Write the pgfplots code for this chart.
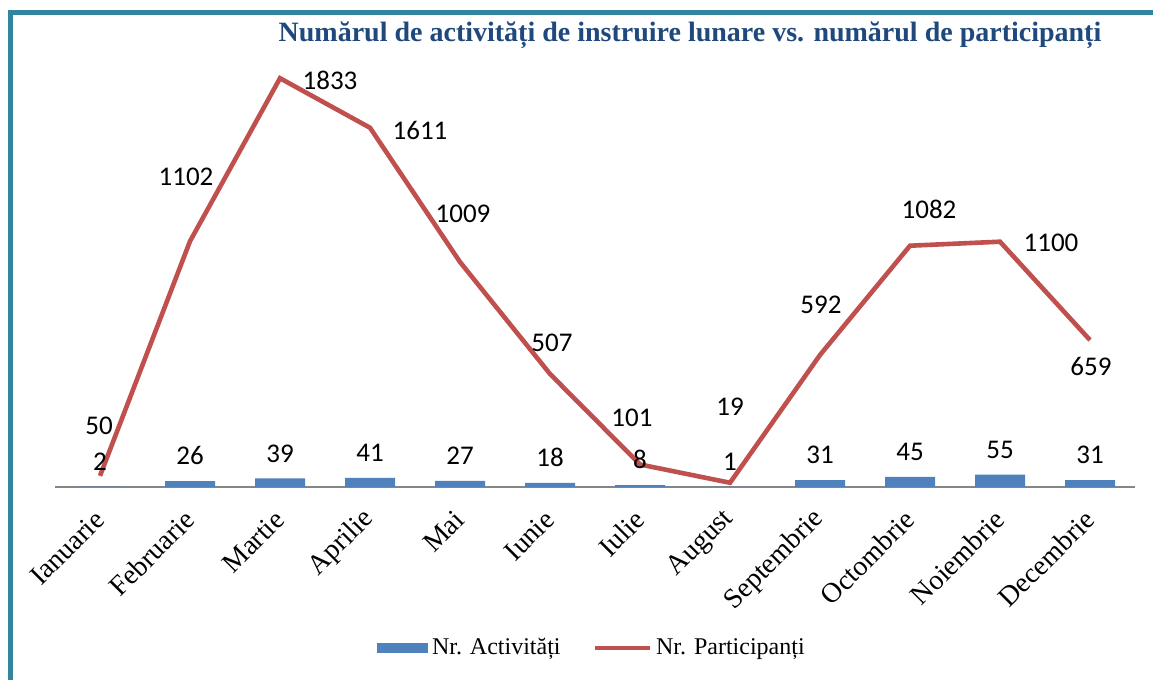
\documentclass[border=0pt]{standalone}
\usepackage{fontspec}
\setmainfont{Liberation Serif}
\newfontfamily\carlito{Carlito}
\usepackage{pgfplots}
\usepackage{pgfplotstable}
\pgfplotsset{compat=1.18}
\definecolor{barblue}{HTML}{4F81BD}
\definecolor{linered}{HTML}{C0504D}
\definecolor{frameteal}{HTML}{31859C}
\definecolor{titleblue}{HTML}{1F497D}
\definecolor{axisgray}{HTML}{868686}

\pgfplotstableread{
x y dx dy
0 50 -0.5 25
1 1102 -2 32
2 1833 25 -1
3 1611 25 -1.5
4 1009 1.5 24
5 507 1 15.5
6 101 -4 23.5
7 19 0 38
8 592 0.5 25
9 1082 9.5 18
10 1100 25.5 -0.5
11 659 0.5 -13
}\partdata

\pgfplotstableread{
x y
0 2
1 26
2 39
3 41
4 27
5 18
6 8
7 1
8 31
9 45
10 55
11 31
}\actdata

\begin{document}
\begin{tikzpicture}
\useasboundingbox (0,0) rectangle (576.5pt,340pt);
\fill[white] (0,0) rectangle (576.5pt,340pt);
\draw[frameteal, line width=2.6pt] (5.25pt,0pt) -- (5.25pt,335pt);
\draw[frameteal, line width=2.6pt] (4pt,333.75pt) -- (576.5pt,333.75pt);
\node[font=\bfseries\fontsize{14}{16}\selectfont, text=titleblue] at (345pt,322.5pt) {Numărul de activități de instruire lunare vs. numărul de participanți};
\begin{axis}[
  at={(27.5pt,96.5pt)}, anchor=south west,
  scale only axis, width=540pt, height=223pt,
  xmin=-0.5, xmax=11.5, ymin=0, ymax=2000,
  axis x line=bottom, axis y line=none,
  axis line style={-, axisgray, line width=0.8pt},
  xtick={0,...,11},
  xticklabels={Ianuarie,Februarie,Martie,Aprilie,Mai,Iunie,Iulie,August,Septembrie,Octombrie,Noiembrie,Decembrie},
  major tick length=0pt,
  xticklabel shift=14pt,
  xticklabel style={font=\fontsize{14}{14}\selectfont, anchor=east, inner sep=0pt, rotate=45},
  clip=false,
  legend columns=2,
  legend style={at={(0.498,-0.361)}, anchor=center, draw=none, fill=none,
    font=\fontsize{12}{14}\selectfont,
    /tikz/every even column/.append style={column sep=14pt}},
  legend cell align=left,
]
\addplot[ybar, bar width=25pt, fill=barblue, draw=none,
  nodes near coords, point meta=explicit symbolic,
  every node near coord/.append style={font=\carlito\fontsize{13.5}{13.5}\selectfont, text=black, anchor=south, yshift=4.5pt},
  legend image code/.code={\fill[barblue] (0pt,-2.6pt) rectangle (25.5pt,2.6pt);}
] table[x=x, y=y, meta=y] {\actdata};
\addlegendentry{Nr. Activități}
\addplot[linered, line width=2.3pt, mark=none,
  nodes near coords, point meta=explicit symbolic,
  visualization depends on={\thisrow{dx} \as \dx},
  visualization depends on={\thisrow{dy} \as \dy},
  every node near coord/.append style={font=\carlito\fontsize{13.5}{13.5}\selectfont, text=black, anchor=center, xshift=\dx pt, yshift=\dy pt},
  legend image code/.code={\draw[linered, line width=2.2pt] (0pt,0pt) -- (27.5pt,0pt);}
] table[x=x, y=y, meta=y] {\partdata};
\addlegendentry{Nr. Participanți}
\end{axis}
\end{tikzpicture}
\end{document}
